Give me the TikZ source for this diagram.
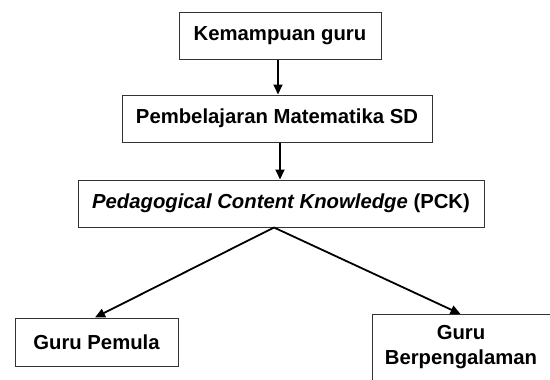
\documentclass[tikz,border=0pt]{standalone}
\usepackage{fontspec}
\setmainfont{Liberation Sans}
\usetikzlibrary{arrows.meta,calc}
\begin{document}
\begin{tikzpicture}[x=1pt,y=-1pt,
  boxstyle/.style={draw=black!80, line width=1pt, inner sep=0pt, font=\fontsize{20.3}{25}\selectfont\bfseries},
  txt/.style={inner sep=0pt, align=center, font=\fontsize{20.3}{25}\selectfont\bfseries},
  arr/.style={line width=1.8pt, -{Triangle[length=10pt,width=9pt]}}]
\useasboundingbox (0,0) rectangle (550,380);
\clip (0,0) rectangle (550,380);
\node[boxstyle, minimum width=202pt, minimum height=47pt] (box1) at (280,35.5) {Kemampuan guru};
\node[boxstyle, minimum width=310pt, minimum height=47pt] (box2) at (277,118.5) {Pembelajaran Matematika SD};
\node[boxstyle, minimum width=406pt, minimum height=47pt] (box3) at (281,203.5) {\textit{Pedagogical Content Knowledge} (PCK)};
\node[boxstyle, minimum width=163pt, minimum height=48pt] (box4) at (96.5,342) {Guru Pemula};
\node[boxstyle, minimum width=180pt, minimum height=90pt, anchor=north west] (box5) at (372,314) {};
\node[txt] (box5t) at (461,347) {Guru\\Berpengalaman};
\coordinate (a1) at ([xshift=-2pt]box1.south);
\draw[arr] (a1) -- (a1 |- box2.north);
\draw[arr] ([xshift=3pt]box2.south) -- ([xshift=-1pt]box3.north);
\draw[arr] ([xshift=-7pt]box3.south) -- ([xshift=-1.5pt]box4.north);
\draw[arr] ([xshift=-7pt]box3.south) -- ([xshift=-2pt]box5.north);
\end{tikzpicture}
\end{document}
